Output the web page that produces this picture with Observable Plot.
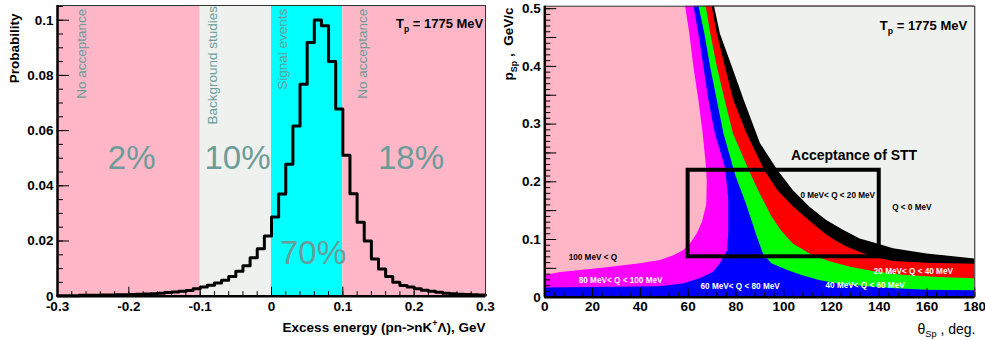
<!DOCTYPE html>
<html><head><meta charset="utf-8">
<script src="https://cdn.jsdelivr.net/npm/d3@7"></script>
<script src="https://cdn.jsdelivr.net/npm/@observablehq/plot@0.6"></script>
<style>
body{margin:0;background:#fff;}
#wrap{display:flex;width:985px;height:340px;overflow:hidden;background:#fff;}
svg{display:block;flex:none;}
</style></head><body><div id="wrap"></div>
<script>
// ---------------- DATA: left panel ----------------
const binStart = d3.range(60).map(i => Math.round((-0.3 + i * 0.01) * 100) / 100); // 0.01 GeV bins
const probability = [
  0.0002,0.0002,0.0002,0.0003,0.0003,0.0003,0.0004,0.0004,0.0005,0.0005,
  0.0006,0.0007,0.0008,0.0009,0.0011,0.0013,0.0015,0.0018,0.0021,0.0027,
  0.0033,0.0040,0.0048,0.0058,0.0071,0.0090,0.0110,0.0139,0.0172,0.0218,
  0.0287,0.0370,0.0478,0.0617,0.0768,0.0919,0.1001,0.0980,0.0850,0.0678,
  0.0511,0.0371,0.0268,0.0200,0.0135,0.0099,0.0071,0.0051,0.0039,0.0033,
  0.0027,0.0022,0.0018,0.0014,0.0011,0.0009,0.0007,0.0006,0.0005,0.0004
];
const regionStart = [-0.3, -0.1, 0.0, 0.1];
const regionEnd   = [-0.1, 0.0, 0.1, 0.3];
const regionKind  = ["none", "background", "signal", "none"];
const regionName  = ["No acceptance", "Background studies", "Signal events", "No acceptance"];
const regionShare = ["2%", "10%", "70%", "18%"];
const leftXTicks = [-0.3, -0.2, -0.1, 0, 0.1, 0.2, 0.3];
const leftYTicks = [0, 0.02, 0.04, 0.06, 0.08, 0.1];

// ---------------- DATA: right panel (boundary curves [p, theta]) ----------------
const curveQ100 = [[0,0],[0.036,0],[0.038,1],[0.043,6.6],[0.045,12],[0.051,26],[0.058,40],[0.0636,48.4],[0.072,54],[0.081,58.2],[0.0925,61],[0.101,62.4],[0.11,63.8],[0.13,66],[0.16,67.8],[0.2,68],[0.225,67.7],[0.283,66.3],[0.341,64.5],[0.399,62.4],[0.456,60.7],[0.505,58.9]];
const curveQ80  = [[0,0],[0.016,0],[0.018,48],[0.023,58],[0.032,65],[0.043,70.5],[0.058,73.5],[0.08,76.5],[0.11,77],[0.17,77],[0.225,75.6],[0.283,71.4],[0.341,68.7],[0.399,66.6],[0.456,64.5],[0.505,62.4]];
const curveQ60  = [[0.011,180],[0.012,160],[0.0145,147],[0.018,135],[0.022,124],[0.029,115],[0.037,108],[0.046,102],[0.058,95],[0.075,91.5],[0.11,88.5],[0.16,84.5],[0.21,80],[0.283,75],[0.341,72.2],[0.399,69.4],[0.456,67],[0.505,64.5]];
const curveQ40  = [[0.032,180],[0.034,165],[0.038,150],[0.044,138],[0.052,128],[0.062,119],[0.075,111],[0.092,104],[0.115,99],[0.14,95],[0.18,90],[0.22,85.5],[0.283,79],[0.341,75.5],[0.399,72.2],[0.456,69.5],[0.505,67.5]];
const curveQ20  = [[0.057,180],[0.059,160],[0.062,146],[0.068,139],[0.076,133],[0.086,127],[0.097,122],[0.108,118],[0.128,112],[0.155,104.5],[0.185,97.5],[0.22,92],[0.283,84.7],[0.341,79.1],[0.399,75.6],[0.456,72.2],[0.505,70]];
const curveQ0   = [[0.066,180],[0.075,160],[0.084,146],[0.0925,139],[0.101,132],[0.116,125],[0.133,118],[0.156,111],[0.185,104],[0.22,97.5],[0.266,90.3],[0.341,83.5],[0.399,78.5],[0.456,73.5],[0.505,71]];
const bandLabels = ["100 MeV < Q","80 MeV< Q < 100 MeV","60 MeV< Q < 80 MeV","40 MeV< Q < 60 MeV","20 MeV< Q < 40 MeV","0 MeV< Q < 20 MeV","Q < 0 MeV"];
const sttBox = {theta1: 60, theta2: 140, p1: 0.07, p2: 0.22};
const rightXTicks = [0,20,40,60,80,100,120,140,160,180];
const rightYTicks = [0,0.1,0.2,0.3,0.4,0.5];

// ---------------- styles ----------------
const FONT = "'Liberation Sans', Arial, Helvetica, sans-serif";
const PINK = "#ffb7c8", GREY = "#eef1ee", CYAN = "#00ffff", TEAL = "#6b9c98";
const kindColor = {none: PINK, background: GREY, signal: CYAN};

const regions = regionStart.map((x1, i) => ({x1, x2: regionEnd[i], kind: regionKind[i]}));
const histo = binStart.map((x, i) => ({x, y: probability[i]}));
histo.push({x: 0.3, y: probability[probability.length - 1]});

// annotation anchors (data coordinates)
const vAnchorX = [-0.26, -0.0764, 0.0217, 0.134];
const vAnchorY = [0.0715, 0.0622, 0.0748, 0.0715];
const pctX = [-0.196, -0.0476, 0.0582, 0.1956];
const pctY = [0.0461, 0.0461, 0.0118, 0.0461];
const vLabels = regionName.map((t, i) => ({t, x: vAnchorX[i], y: vAnchorY[i]}));
const pLabels = regionShare.map((t, i) => ({t, x: pctX[i], y: pctY[i]}));

const LW = 492, LH = 340, LML = 57, LMR = 7, LMT = 5, LMB = 44.3;
const lInnerW = LW - LML - LMR, lInnerH = LH - LMT - LMB;
const leftYMinor = d3.range(0, 0.1051, 0.005).map(v => Math.round(v * 1000) / 1000);
const leftXMinor = d3.range(-0.3, 0.3001, 0.02).map(v => Math.round(v * 100) / 100);

const left = Plot.plot({
  width: LW, height: LH, marginLeft: LML, marginRight: LMR, marginTop: LMT, marginBottom: LMB,
  x: {domain: [-0.3, 0.3], label: null},
  y: {domain: [0, 0.10533], label: null},
  style: {fontFamily: FONT, fontSize: "13.5px", fontWeight: "bold", background: "none", color: "black", overflow: "visible"},
  marks: [
    Plot.rect(regions, {x1: "x1", x2: "x2", fill: d => kindColor[d.kind]}),
    Plot.text(vLabels, {x: "x", y: "y", text: "t", rotate: -90, textAnchor: "start", lineAnchor: "bottom", fill: TEAL, fontWeight: "normal", fontSize: 13.5}),
    Plot.text(pLabels, {x: "x", y: "y", text: "t", textAnchor: "middle", lineAnchor: "bottom", fill: TEAL, fontWeight: "normal", fontSize: 33}),
    Plot.line(histo, {x: "x", y: "y", curve: "step-after", stroke: "black", strokeWidth: 3}),
    Plot.text(["T_{p} = 1775 MeV"], {x: 0.2968, y: 0.0972, text: d => d, textAnchor: "end", lineAnchor: "bottom", fontSize: 13}),
    Plot.ruleY(leftYMinor, {insetRight: lInnerW - 6, stroke: "black", strokeWidth: 1}),
    Plot.ruleY(leftYTicks, {insetRight: lInnerW - 12, stroke: "black", strokeWidth: 1}),
    Plot.ruleX(leftXMinor, {insetTop: lInnerH - 4.5, stroke: "black", strokeWidth: 1}),
    Plot.ruleX(leftXTicks, {insetTop: lInnerH - 9, stroke: "black", strokeWidth: 1}),
    Plot.frame({stroke: "#333", strokeWidth: 1}),
    Plot.ruleX([-0.3], {stroke: "black", strokeWidth: 2.5}),
    Plot.ruleY([0], {stroke: "black", strokeWidth: 2.5}),
    Plot.axisY(leftYTicks, {tickSize: 0, tickPadding: 4, label: null, tickFormat: d => String(d)}),
    Plot.axisX(leftXTicks, {tickSize: 0, tickPadding: 5, label: null, tickFormat: d => String(d)}),
    Plot.text(["Probability"], {frameAnchor: "top-left", text: d => d, rotate: -90, textAnchor: "end", lineAnchor: "bottom", dx: -38.5, dy: 8}),
    Plot.text(["Excess energy (pn->nK^{+}\u039B), GeV"], {frameAnchor: "bottom-right", text: d => d, textAnchor: "end", lineAnchor: "bottom", dy: 35.3})
  ]
});

const RW = 493, RH = 340, RML = 52.3, RMR = 10.7, RMT = 5.7, RMB = 43.3;
const rInnerW = RW - RML - RMR, rInnerH = RH - RMT - RMB;
const rightYMinor = d3.range(0, 0.5001, 0.01).map(v => Math.round(v * 100) / 100);
const rightYMid = d3.range(0, 0.5001, 0.05).map(v => Math.round(v * 100) / 100);
const rightXMinor = d3.range(0, 180.1, 4);

const band = (curve, fill) => Plot.areaX(curve, {y: d => d[0], x1: d => d[1], x2: () => 180, fill, clip: true});
const bandAnchorX = [10, 14.2, 65.2, 117.5, 137.7, 107, 145.4];
const bandAnchorY = [0.0648, 0.0243, 0.0146, 0.0163, 0.0405, 0.172, 0.1515];
const bandFill = ["black", "white", "white", "white", "white", "black", "black"];
const bLabels = bandLabels.map((t, i) => ({t, x: bandAnchorX[i], y: bandAnchorY[i], c: bandFill[i]}));

const right = Plot.plot({
  width: RW, height: RH, marginLeft: RML, marginRight: RMR, marginTop: RMT, marginBottom: RMB,
  x: {domain: [0, 180], label: null},
  y: {domain: [0, 0.5043], label: null},
  style: {fontFamily: FONT, fontSize: "13.5px", fontWeight: "bold", background: "none", color: "black", overflow: "visible"},
  marks: [
    Plot.frame({fill: PINK}),
    band(curveQ100, "#ff00ff"),
    band(curveQ80, "#0000ff"),
    band(curveQ60, "#00ff00"),
    band(curveQ40, "#ff0000"),
    band(curveQ20, "#000000"),
    band(curveQ0, GREY),
    Plot.rect([sttBox], {x1: "theta1", x2: "theta2", y1: "p1", y2: "p2", fill: "none", stroke: "black", strokeWidth: 4}),
    Plot.text(["Acceptance of STT"], {x: 103.1, y: 0.237, text: d => d, textAnchor: "start", lineAnchor: "bottom", fontSize: 14}),
    Plot.text(bLabels, {x: "x", y: "y", text: "t", fill: "c", textAnchor: "start", lineAnchor: "bottom", fontSize: 8.2}),
    Plot.text(["T_{p} = 1775 MeV"], {x: 176.8, y: 0.463, text: d => d, textAnchor: "end", lineAnchor: "bottom", fontSize: 13}),
    Plot.ruleY(rightYMinor, {insetRight: rInnerW - 6, stroke: "black", strokeWidth: 1}),
    Plot.ruleY(rightYMid, {insetRight: rInnerW - 12, stroke: "black", strokeWidth: 1}),
    Plot.ruleX(rightXMinor, {insetTop: rInnerH - 4.5, stroke: "black", strokeWidth: 1}),
    Plot.ruleX(rightXTicks, {insetTop: rInnerH - 9, stroke: "black", strokeWidth: 1}),
    Plot.frame({stroke: "#333", strokeWidth: 1}),
    Plot.ruleX([0], {stroke: "black", strokeWidth: 2.5}),
    Plot.ruleY([0], {stroke: "black", strokeWidth: 2.5}),
    Plot.axisY(rightYTicks, {tickSize: 0, tickPadding: 4, label: null, tickFormat: d => String(d)}),
    Plot.axisX(rightXTicks, {tickSize: 0, tickPadding: 4.5, label: null, tickFormat: d => String(d)}),
    Plot.text(["p_{Sp} ,  GeV/c"], {frameAnchor: "top-left", text: d => d, rotate: -90, textAnchor: "end", lineAnchor: "bottom", dx: -31.8, dy: 1.3}),
    Plot.text(["\u03B8_{Sp} , deg."], {frameAnchor: "bottom-right", text: d => d, textAnchor: "end", lineAnchor: "bottom", dx: 0.7, dy: 36.3, fontWeight: "normal", fontSize: 14})
  ]
});

const wrap = document.getElementById("wrap");
wrap.appendChild(left);
wrap.appendChild(right);

function richify(svg) {
  d3.select(svg).selectAll("text").each(function () {
    const s = this.textContent;
    if (!/[_^]\{/.test(s)) return;
    const fs = parseFloat(getComputedStyle(this).fontSize) || 13;
    const parts = []; const re = /([_^])\{([^}]*)\}/g; let last = 0, m;
    while ((m = re.exec(s))) {
      if (m.index > last) parts.push({t: s.slice(last, m.index)});
      parts.push({t: m[2], k: m[1]});
      last = re.lastIndex;
    }
    if (last < s.length) parts.push({t: s.slice(last)});
    this.textContent = "";
    let shift = 0;
    for (const p of parts) {
      const ts = d3.select(this).append("tspan").text(p.t);
      const target = p.k === "_" ? 0.28 * fs : p.k === "^" ? -0.38 * fs : 0;
      if (target !== shift) ts.attr("dy", target - shift);
      shift = target;
      if (p.k) ts.attr("font-size", 0.66 * fs);
    }
  });
}
richify(left);
richify(right);
</script></body></html>
